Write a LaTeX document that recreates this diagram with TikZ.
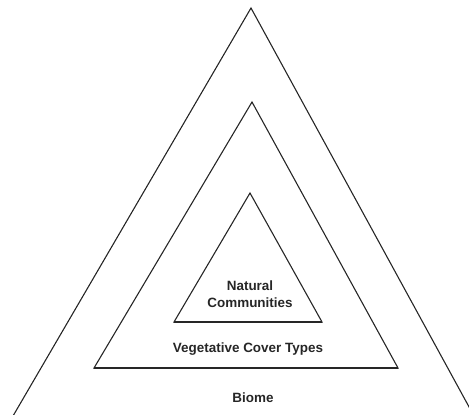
\documentclass[tikz,border=0pt]{standalone}
\usepackage{fontspec}
\setmainfont{Liberation Sans}
\definecolor{ink}{HTML}{262626}
\tikzset{tri/.style={draw=ink,line width=1.1bp,line join=miter},
base/.style={draw=ink,line width=1.7bp},
lab/.style={font=\fontsize{13.5}{17}\selectfont\bfseries,text=ink,align=center,inner sep=0pt}}

\begin{document}
\begin{tikzpicture}[x=1bp,y=-1bp]
\useasboundingbox (0,0) rectangle (469,414);
\clip (0,0) rectangle (469,414);
% outer level, its base runs off the page
\coordinate (bTop) at (251,8);
\coordinate (bRight) at (474,416);
\coordinate (bLeft) at (13,416);
\draw[tri] (bTop)--(bRight)--(bLeft)--cycle;
% middle level
\coordinate (vTop) at (252,102);
\coordinate (vRight) at (398,368);
\coordinate (vLeft) at (94,368);
\draw[tri] (vTop)--(vRight)--(vLeft)--cycle;
\draw[base] (vLeft)--(vRight);
% inner level
\coordinate (nTop) at (250,193);
\coordinate (nRight) at (322,322);
\coordinate (nLeft) at (174,322);
\draw[tri] (nTop)--(nRight)--(nLeft)--cycle;
\draw[base] (nLeft)--(nRight);
\node[lab] (natural) at (250,294) {Natural\\Communities};
\node[lab,anchor=base] (cover) at (248,352) {Vegetative Cover Types};
\node[lab,anchor=base] (biome) at (253,402) {Biome};
\end{tikzpicture}
\end{document}
